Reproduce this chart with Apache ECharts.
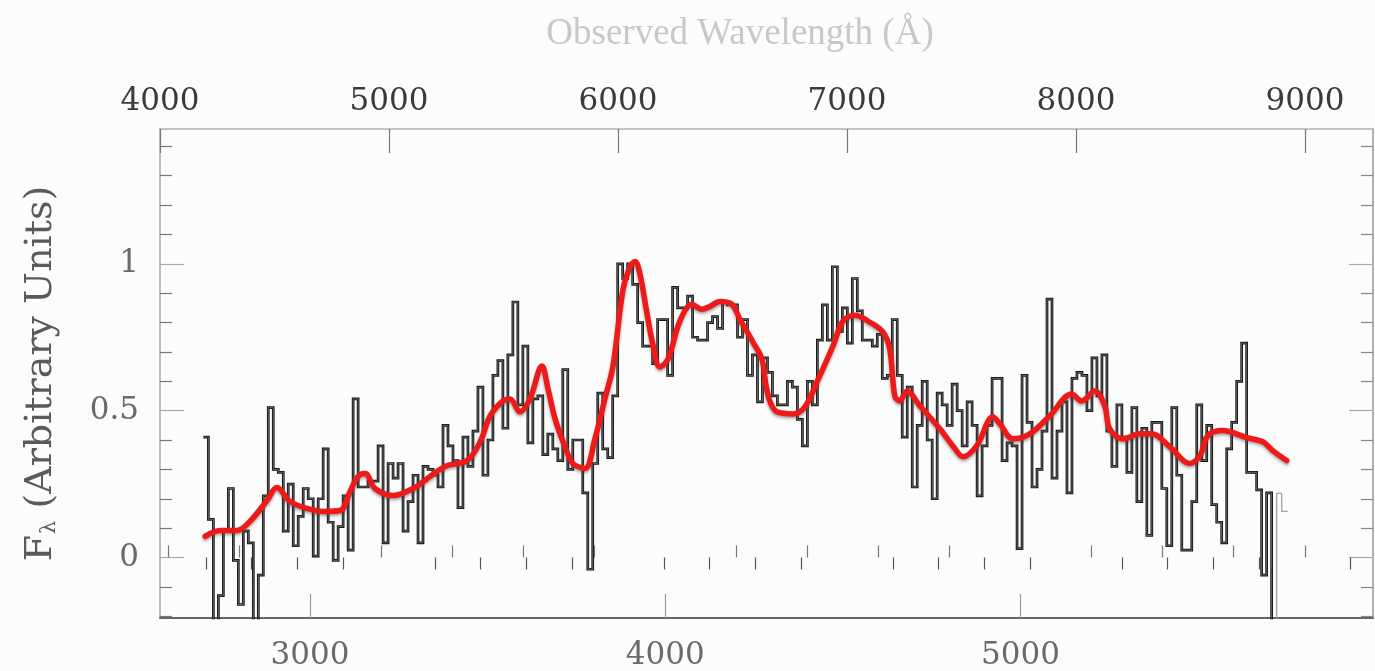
<!DOCTYPE html>
<html>
<head>
<meta charset="utf-8">
<script src="https://cdn.jsdelivr.net/npm/echarts@6/dist/echarts.min.js"></script>
<style>
  html, body { margin: 0; padding: 0; background: #fcfcfc; }
  #chart { width: 1375px; height: 671px; }
</style>
</head>
<body>
<div id="chart"></div>
<script>
// Binned spectrum on the rest-frame grid (Å), flux in arbitrary units
const binStart = 2700;
const binWidth = 14.05;
const fluxBins = [
  0.41, 0.13, -0.3, -0.13, 0.09, 0.235, -0.01, -0.16, 0.09, 0.05,
  -0.3, -0.06, 0.21, 0.51, 0.30, 0.29, 0.09, 0.25, 0.04, 0.14,
  0.235, 0.20, 0.005, 0.20, 0.37, 0.12, -0.01, 0.105, 0.21, 0.025,
  0.54, 0.24, 0.24, 0.26, 0.26, 0.38, 0.05, 0.32, 0.27, 0.32,
  0.09, 0.19, 0.28, 0.05, 0.31, 0.30, 0.28, 0.24, 0.45, 0.38,
  0.33, 0.17, 0.41, 0.31, 0.43, 0.58, 0.28, 0.40, 0.62, 0.67,
  0.44, 0.69, 0.87, 0.52, 0.72, 0.39, 0.54, 0.55, 0.35, 0.42,
  0.37, 0.33, 0.64, 0.30, 0.40, 0.40, 0.22, -0.04, 0.32, 0.56,
  0.37, 0.34, 0.55, 1.0, 0.95, 1.0, 0.93, 0.80, 0.72, 0.72,
  0.66, 0.81, 0.81, 0.62, 0.92, 0.85, 0.85, 0.89, 0.75, 0.74,
  0.74, 0.80, 0.82, 0.78, 0.87, 0.86, 0.86, 0.75, 0.81, 0.62,
  0.69, 0.53, 0.68, 0.63, 0.55, 0.52, 0.52, 0.60, 0.58, 0.47,
  0.38, 0.60, 0.52, 0.74, 0.86, 0.74, 0.99, 0.77, 0.85, 0.73,
  0.95, 0.84, 0.74, 0.74, 0.72, 0.76, 0.61, 0.62, 0.81, 0.62,
  0.41, 0.58, 0.24, 0.45, 0.60, 0.40, 0.20, 0.56, 0.52, 0.45,
  0.59, 0.50, 0.38, 0.53, 0.45, 0.21, 0.38, 0.45, 0.61, 0.61,
  0.33, 0.39, 0.38, 0.03, 0.62, 0.46, 0.24, 0.30, 0.43, 0.88,
  0.27, 0.43, 0.53, 0.22, 0.61, 0.63, 0.62, 0.50, 0.68, 0.55,
  0.69, 0.43, 0.31, 0.52, 0.41, 0.29, 0.51, 0.19, 0.44, 0.075,
  0.46, 0.46, 0.235, 0.04, 0.51, 0.28, 0.025, 0.025, 0.19, 0.52,
  0.33, 0.45, 0.18, 0.12, 0.05, 0.37, 0.46, 0.60, 0.73, 0.29,
  0.29, 0.23, -0.06, 0.22
];

// Faint trailing pixels past the end of the reduced spectrum
const tailEdges = [5721, 5735, 5752];
const tailFlux = [0.218, 0.157];

// Smoothed spectrum
const smoothRest = [
  2705, 2747, 2795, 2831, 2879, 2907, 2944, 2992, 3037, 3085,
  3113, 3135, 3155, 3183, 3234, 3290, 3338, 3386, 3442, 3479,
  3507, 3543, 3563, 3591, 3619, 3653, 3670, 3690, 3718, 3740,
  3774, 3802, 3830, 3853, 3881, 3900, 3915, 3929, 3948, 3965,
  3985, 4008, 4041, 4075, 4103, 4126, 4154, 4188, 4210, 4247,
  4272, 4283, 4295, 4314, 4359, 4393, 4427, 4472, 4500, 4534,
  4576, 4613, 4632, 4646, 4660, 4680, 4717, 4773, 4815, 4838,
  4877, 4922, 4942, 4978, 5026, 5082, 5144, 5172, 5209, 5237,
  5251, 5288, 5336, 5369, 5420, 5476, 5505, 5527, 5569, 5637,
  5682, 5710, 5749
];
const smoothFlux = [
  0.072, 0.092, 0.092, 0.123, 0.194, 0.238, 0.191, 0.167, 0.157, 0.16,
  0.225, 0.276, 0.286, 0.235, 0.211, 0.235, 0.276, 0.313, 0.33, 0.394,
  0.482, 0.533, 0.54, 0.496, 0.54, 0.652, 0.574, 0.472, 0.377, 0.32,
  0.303, 0.404, 0.54, 0.652, 0.913, 0.988, 1.008, 0.964, 0.835, 0.727,
  0.649, 0.676, 0.805, 0.862, 0.845, 0.855, 0.872, 0.862, 0.811, 0.733,
  0.676, 0.591, 0.530, 0.496, 0.489, 0.513, 0.598, 0.72, 0.805, 0.825,
  0.801, 0.767, 0.709, 0.55, 0.533, 0.567, 0.516, 0.438, 0.371, 0.343,
  0.381, 0.479, 0.455, 0.404, 0.421, 0.482, 0.557, 0.533, 0.567, 0.516,
  0.438, 0.404, 0.421, 0.421, 0.377, 0.32, 0.347, 0.415, 0.432, 0.408,
  0.394, 0.364, 0.330
];

// Axes
const redshift = 0.5516;
const restRange = [2577.9, 5992];
const fluxRange = [-0.206, 1.459];
const restMajor = [3000, 4000, 5000];
const restMinorStep = 200;
const obsMajor = [4000, 5000, 6000, 7000, 8000, 9000];
const obsMinorStep = 200;
const fluxMajor = [0, 0.5, 1];
const fluxMinorStep = 0.1;

const obsRange = [restRange[0] * (1 + redshift), restRange[1] * (1 + redshift)];

function minorTicks(range, step, majors) {
  const out = [];
  const first = Math.ceil(range[0] / step);
  const last = Math.floor(range[1] / step);
  for (let k = first; k <= last; k++) {
    const v = Math.round(k * step * 1000) / 1000;
    if (!majors.some(m => Math.abs(m - v) < 1e-6)) out.push(v);
  }
  return out;
}
const restMinor = minorTicks(restRange, restMinorStep, restMajor);
const obsMinor = minorTicks(obsRange, obsMinorStep, obsMajor);
const fluxMinor = minorTicks(fluxRange, fluxMinorStep, fluxMajor);

// Histogram outline: each bin drawn from its left edge, closing below the frame
const floorFlux = fluxRange[0] - 0.3;
const stepData = fluxBins.map((v, i) => [binStart + i * binWidth, v]);
stepData.push([binStart + fluxBins.length * binWidth, floorFlux]);

const tailData = [[tailEdges[0], floorFlux]];
tailFlux.forEach((v, i) => tailData.push([tailEdges[i + 1], v]));

const smoothData = smoothRest.map((x, i) => [x, smoothFlux[i]]);

const tickFont = 'DejaVu Serif';
const hidden = { show: false };
const plain = v => String(v);

function valueAxis(extra) {
  return Object.assign({
    type: 'value',
    scale: true,
    splitLine: hidden,
    axisLine: hidden,
    axisLabel: hidden
  }, extra);
}

const chart = echarts.init(document.getElementById('chart'), null, { renderer: 'canvas' });

chart.setOption({
  animation: false,
  backgroundColor: '#fcfcfc',
  title: {
    text: 'Observed Wavelength (Å)',
    left: 735,
    top: 11,
    textAlign: 'center',
    textStyle: {
      fontFamily: 'Liberation Serif',
      fontSize: 37,
      fontWeight: 'normal',
      color: '#c8c8c8'
    }
  },
  grid: { left: 160, right: 2, top: 129, bottom: 51 },
  xAxis: [
    valueAxis({
      position: 'bottom',
      min: restRange[0], max: restRange[1],
      axisLine: { show: true, onZero: false, lineStyle: { color: '#666', width: 2 } },
      axisTick: { show: true, inside: true, length: 24, customValues: restMajor,
        lineStyle: { color: '#9a9a9a', width: 1.2 } },
      axisLabel: { show: true, customValues: restMajor, margin: 22, formatter: plain,
        fontFamily: tickFont, fontSize: 31, color: '#6a6a6a' }
    }),
    valueAxis({
      position: 'bottom',
      min: restRange[0], max: restRange[1],
      axisTick: { show: true, inside: true, length: 12, customValues: restMinor,
        lineStyle: { color: '#777', width: 1.2 } }
    }),
    valueAxis({
      position: 'top',
      min: obsRange[0], max: obsRange[1],
      axisLine: { show: true, onZero: false, lineStyle: { color: '#b0b0b0', width: 1.5 } },
      axisTick: { show: true, inside: true, length: 24, customValues: obsMajor,
        lineStyle: { color: '#777', width: 1.2 } },
      axisLabel: { show: true, customValues: obsMajor, margin: 12, formatter: plain,
        fontFamily: tickFont, fontSize: 31, color: '#3a3a3a' }
    }),
    valueAxis({
      position: 'top',
      min: obsRange[0], max: obsRange[1],
      axisTick: { show: true, inside: true, length: 12, customValues: obsMinor,
        lineStyle: { color: '#555', width: 1.2 } }
    })
  ],
  yAxis: [
    valueAxis({
      position: 'left',
      min: fluxRange[0], max: fluxRange[1],
      axisLine: { show: true, onZero: false, lineStyle: { color: '#a8a8a8', width: 1.5 } },
      axisTick: { show: true, inside: true, length: 24, customValues: fluxMajor,
        lineStyle: { color: '#aaa', width: 1.2 } },
      axisLabel: { show: true, customValues: fluxMajor, margin: 21, formatter: plain,
        fontFamily: tickFont, fontSize: 31, color: '#6a6a6a' },
      name: '{f|F}{s|λ}{t| (Arbitrary Units)}',
      nameLocation: 'middle',
      nameRotate: 90,
      nameGap: 100,
      nameTextStyle: {
        color: '#5a5a5a',
        rich: {
          f: { fontFamily: tickFont, fontSize: 38, color: '#5a5a5a' },
          s: { fontFamily: tickFont, fontSize: 21, color: '#5a5a5a', padding: [17, 0, 0, 1] },
          t: { fontFamily: tickFont, fontSize: 38, color: '#5a5a5a' }
        }
      }
    }),
    valueAxis({
      position: 'left',
      min: fluxRange[0], max: fluxRange[1],
      axisTick: { show: true, inside: true, length: 12, customValues: fluxMinor,
        lineStyle: { color: '#777', width: 1.2 } }
    }),
    valueAxis({
      position: 'right',
      min: fluxRange[0], max: fluxRange[1],
      axisLine: { show: true, onZero: false, lineStyle: { color: '#9a9a9a', width: 1.5 } },
      axisTick: { show: true, inside: true, length: 24, customValues: fluxMajor,
        lineStyle: { color: '#aaa', width: 1.2 } }
    }),
    valueAxis({
      position: 'right',
      min: fluxRange[0], max: fluxRange[1],
      axisTick: { show: true, inside: true, length: 12, customValues: fluxMinor,
        lineStyle: { color: '#888', width: 1.2 } }
    })
  ],
  series: [
    {
      name: 'spectrum',
      type: 'line',
      step: 'end',
      xAxisIndex: 0, yAxisIndex: 0,
      data: stepData,
      symbol: 'none',
      clip: true,
      z: 2,
      lineStyle: { color: '#111', width: 2.7, join: 'miter' }
    },
    {
      name: 'spectrum core',
      type: 'line',
      step: 'end',
      xAxisIndex: 0, yAxisIndex: 0,
      data: stepData,
      symbol: 'none',
      clip: true,
      z: 3,
      lineStyle: { color: '#7a7a7a', width: 0.8, join: 'miter' }
    },
    {
      name: 'tail',
      type: 'line',
      step: 'start',
      xAxisIndex: 0, yAxisIndex: 0,
      data: tailData,
      symbol: 'none',
      clip: true,
      z: 2,
      lineStyle: { color: '#a0a0a0', width: 1.3 }
    },
    {
      name: 'smoothed',
      type: 'line',
      smooth: 0.35,
      xAxisIndex: 0, yAxisIndex: 0,
      data: smoothData,
      symbol: 'none',
      clip: true,
      z: 5,
      lineStyle: {
        color: '#ee1a1a', width: 5.5, cap: 'round', join: 'round',
        shadowColor: 'rgba(60,60,60,0.45)', shadowBlur: 3, shadowOffsetY: 2
      }
    }
  ]
});
</script>
</body>
</html>
